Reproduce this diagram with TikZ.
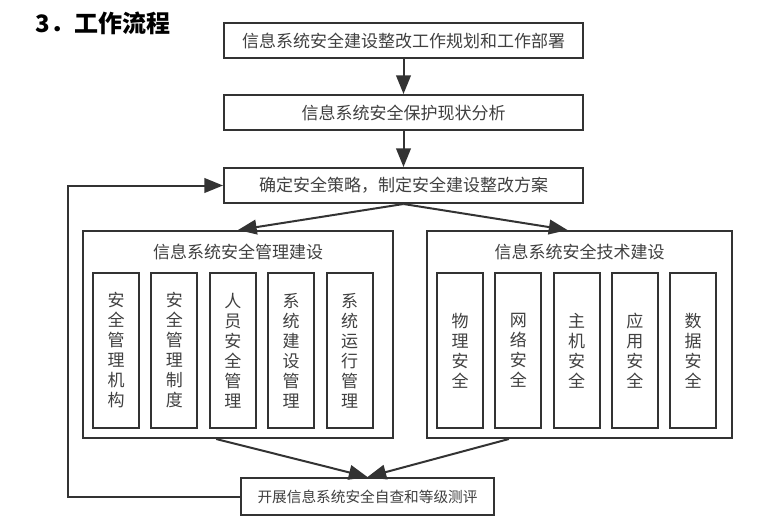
\documentclass[tikz,border=0pt]{standalone}
\usepackage{fontspec}
\setmainfont{Noto Sans CJK SC}
\usetikzlibrary{arrows.meta, positioning, calc}
\definecolor{linegray}{HTML}{333333}
\definecolor{textgray}{HTML}{404040}
\tikzset{
  stepbox/.style={rectangle, draw=linegray, fill=white, line width=1.5pt,
                  minimum width=269.25pt, minimum height=26.25pt, inner sep=0pt,
                  text=textgray, font=\fontsize{12.75}{15}\selectfont},
  groupbox/.style={rectangle, draw=linegray, line width=1.5pt,
                   minimum height=155.25pt, inner sep=0pt},
  itembox/.style={rectangle, draw=linegray, line width=1.5pt,
                  minimum width=34.5pt, minimum height=116.25pt, inner sep=0pt,
                  align=center, text=textgray, font=\fontsize{12.75}{15}\selectfont},
  grouptitle/.style={text=textgray, inner sep=1pt, font=\fontsize{12.75}{15}\selectfont},
  arrow/.style={-{Triangle[length=14pt, width=11pt]}, draw=linegray, line width=1.5pt},
}

\begin{document}
\begin{tikzpicture}[x=0.75pt, y=-0.75pt, node distance=26.25pt]
  \useasboundingbox (0,0) rectangle (774,521);

  % Title
  \node[anchor=west, font=\bfseries\fontsize{18}{20}\selectfont] (title) at (31,23) {3．工作流程};

  % Nodes
  \node[stepbox] (plan) at (403.5,40.5) {信息系统安全建设整改工作规划和工作部署};
  \node[stepbox, below=of plan] (analysis) {信息系统安全保护现状分析};
  \node[stepbox, below=27pt of analysis] (strategy) {确定安全策略，制定安全建设整改方案};

  \node[groupbox, minimum width=232.5pt] (mgmt) at (238,334.5) {};
  \node[groupbox, minimum width=228.75pt] (tech) at (579.5,334.5) {};
  \node[grouptitle] (mgmttitle) at (238,252) {信息系统安全管理建设};
  \node[grouptitle] (techtitle) at (579.5,252) {信息系统安全技术建设};

  \foreach \txt [count=\i] in {{安\\全\\管\\理\\机\\构}, {安\\全\\管\\理\\制\\度},
      {人\\员\\安\\全\\管\\理}, {系\\统\\建\\设\\管\\理}, {系\\统\\运\\行\\管\\理}}
    \node[itembox] (m\i) at ({116+58.4*(\i-1)},350.5) {\txt};

  \foreach \txt [count=\i] in {{物\\理\\安\\全}, {网\\络\\安\\全}, {主\\机\\安\\全},
      {应\\用\\安\\全}, {数\\据\\安\\全}}
    \node[itembox] (t\i) at ({460+58.25*(\i-1)},350.5) {\txt};

  \node[stepbox, minimum width=189.75pt, minimum height=27.75pt,
        font=\fontsize{11}{13}\selectfont] (check) at (367.5,496.5) {开展信息系统安全自查和等级测评};

  % Edges
  \draw[arrow] (plan) -- (analysis);
  \draw[arrow] (analysis) -- (strategy);
  \draw[arrow] (strategy.south) -- (mgmt.north);
  \draw[arrow] (strategy.south) -- ($(tech.north)+(-12,0)$);
  \draw[arrow] ($(mgmt.south west)!0.43!(mgmt.south east)$) -- (check.north);
  \draw[arrow] ($(tech.south west)!0.27!(tech.south east)$) -- (check.north);

  % Feedback loop back to the strategy step
  \coordinate (loop) at (68,496.5);
  \draw[arrow] (check.west) -- (loop) |- (strategy.west);
\end{tikzpicture}
\end{document}
